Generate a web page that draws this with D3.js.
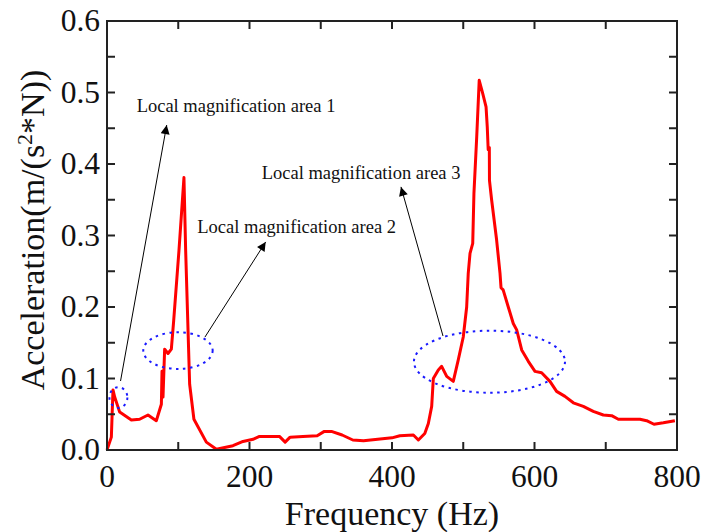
<!DOCTYPE html>
<meta charset="utf-8">
<html>
  <head>
    <script src="https://d3js.org/d3.v7.min.js"></script>
    <style>
      body { margin: 0; background: #fff; }
      text { font-family: "Liberation Serif", "Times New Roman", serif; fill: #111; }
      .tick-label { font-size: 31.5px; }
      .axis-title { font-size: 34px; }
      .note { font-size: 18.5px; }
    </style>
  </head>
  <body>
    <svg id="chart" width="704" height="532"></svg>
    <script>
      // spectrum
      const freq = [0, 6.1, 8.4, 10.8, 17.8, 34.2, 45.8, 57.5, 69.2, 76.3, 77.2, 78.6, 80.9, 85.6, 90.3, 93.6,
        101, 108, 110.4, 116, 122, 139.4, 153.5, 176.8, 190.9, 205, 214, 230, 242, 250, 257, 275, 295, 305,
        315, 330, 345, 360, 380, 400, 411, 430, 437, 446, 451, 455.7, 458, 465, 469.7, 476.8, 486, 493, 500,
        504.8, 507, 509.5, 513.3, 515, 518.9, 522.4, 527.2, 532, 533.7, 535, 536.6, 536.8, 539.8, 546.8,
        551.6, 553, 556, 563.2, 570.2, 575, 582, 591.3, 600.7, 610, 621.7, 631, 642.8, 654.5, 668.5, 682.5,
        696.6, 708.3, 717.7, 748, 757.4, 767.7, 780.8, 797];
      const accel = [0, 0.018, 0.084, 0.074, 0.053, 0.042, 0.043, 0.049, 0.041, 0.064, 0.110, 0.074, 0.141,
        0.135, 0.141, 0.181, 0.279, 0.381, 0.279, 0.092, 0.043, 0.011, 0.001, 0.006, 0.012, 0.015, 0.019,
        0.019, 0.019, 0.011, 0.018, 0.019, 0.020, 0.026, 0.026, 0.021, 0.014, 0.013, 0.015, 0.017, 0.020,
        0.021, 0.014, 0.023, 0.037, 0.061, 0.100, 0.112, 0.117, 0.103, 0.096, 0.126, 0.158, 0.200, 0.247,
        0.275, 0.289, 0.359, 0.438, 0.517, 0.499, 0.480, 0.452, 0.420, 0.423, 0.377, 0.350, 0.294, 0.247,
        0.227, 0.224, 0.200, 0.177, 0.168, 0.140, 0.124, 0.110, 0.108, 0.096, 0.082, 0.075, 0.066, 0.061,
        0.054, 0.049, 0.048, 0.043, 0.043, 0.041, 0.036, 0.038, 0.041];

      const xTicks = [0, 200, 400, 600, 800];
      const xMinor = [100, 300, 500, 700];
      const yTicks = [0, 0.1, 0.2, 0.3, 0.4, 0.5, 0.6];
      const yMinor = [0.05, 0.15, 0.25, 0.35, 0.45, 0.55];

      // annotation ellipses: centre freq, centre accel, half width (Hz), half height
      const ellipses = [
        { cx: 16, cy: 0.0734, rx: 12.6, ry: 0.0145 },
        { cx: 99.6, cy: 0.139, rx: 48.7, ry: 0.0256 },
        { cx: 536.8, cy: 0.1235, rx: 106, ry: 0.0434 }
      ];
      const notes = [
        { text: "Local magnification area 1", x: 41.6, y: 0.4727, from: [19, 0.0965], to: [83.8, 0.4545] },
        { text: "Local magnification area 2", x: 126.7, y: 0.304, from: [137.5, 0.158], to: [222.7, 0.291] },
        { text: "Local magnification area 3", x: 217.1, y: 0.379, from: [471.6, 0.1594], to: [412.6, 0.368] }
      ];

      const margin = { left: 107, right: 27, top: 21, bottom: 82 };
      const width = 704, height = 532;
      const svg = d3.select("#chart");

      const x = d3.scaleLinear().domain([0, 800]).range([margin.left, width - margin.right]);
      const y = d3.scaleLinear().domain([0, 0.6]).range([height - margin.bottom, margin.top]);

      svg.append("defs").append("marker")
        .attr("id", "head")
        .attr("viewBox", "0 0 10 10")
        .attr("refX", 10).attr("refY", 5)
        .attr("markerWidth", 11).attr("markerHeight", 9)
        .attr("markerUnits", "userSpaceOnUse")
        .attr("orient", "auto")
        .append("path").attr("d", "M0,0 L10,5 L0,10 Z").attr("fill", "#000");

      // curve
      const pts = freq.map((f, i) => [f, accel[i]]);
      svg.append("path")
        .datum(pts)
        .attr("fill", "none")
        .attr("stroke", "#ff0000")
        .attr("stroke-width", 3)
        .attr("stroke-linejoin", "round")
        .attr("d", d3.line().x(d => x(d[0])).y(d => y(d[1])));

      // dotted ellipses
      svg.selectAll("ellipse.zone")
        .data(ellipses)
        .enter()
        .append("ellipse")
          .attr("class", "zone")
          .attr("cx", d => x(d.cx))
          .attr("cy", d => y(d.cy))
          .attr("rx", d => x(d.rx) - x(0))
          .attr("ry", d => y(0) - y(d.ry))
          .attr("fill", "none")
          .attr("stroke", "#1a1aff")
          .attr("stroke-width", 2)
          .attr("stroke-dasharray", "2.5 4.5");

      // arrows and labels
      svg.selectAll("line.arrow")
        .data(notes)
        .enter()
        .append("line")
          .attr("class", "arrow")
          .attr("x1", d => x(d.from[0])).attr("y1", d => y(d.from[1]))
          .attr("x2", d => x(d.to[0])).attr("y2", d => y(d.to[1]))
          .attr("stroke", "#000")
          .attr("stroke-width", 1)
          .attr("marker-end", "url(#head)");

      svg.selectAll("text.note")
        .data(notes)
        .enter()
        .append("text")
          .attr("class", "note")
          .attr("x", d => x(d.x))
          .attr("y", d => y(d.y))
          .text(d => d.text);

      // frame with inward ticks on all sides
      const axisColor = "#222";
      const frame = svg.append("g");
      frame.append("rect")
        .attr("x", x(0)).attr("y", y(0.6))
        .attr("width", x(800) - x(0)).attr("height", y(0) - y(0.6))
        .attr("fill", "none").attr("stroke", axisColor).attr("stroke-width", 2);

      const tickLen = 8;
      xTicks.concat(xMinor).forEach(v => {
        frame.append("line").attr("x1", x(v)).attr("x2", x(v))
          .attr("y1", y(0)).attr("y2", y(0) - tickLen)
          .attr("stroke", axisColor).attr("stroke-width", 2);
        frame.append("line").attr("x1", x(v)).attr("x2", x(v))
          .attr("y1", y(0.6)).attr("y2", y(0.6) + tickLen)
          .attr("stroke", axisColor).attr("stroke-width", 2);
      });
      yTicks.concat(yMinor).forEach(v => {
        frame.append("line").attr("x1", x(0)).attr("x2", x(0) + tickLen)
          .attr("y1", y(v)).attr("y2", y(v))
          .attr("stroke", axisColor).attr("stroke-width", 2);
        frame.append("line").attr("x1", x(800)).attr("x2", x(800) - tickLen)
          .attr("y1", y(v)).attr("y2", y(v))
          .attr("stroke", axisColor).attr("stroke-width", 2);
      });

      svg.selectAll("text.xl")
        .data(xTicks)
        .enter()
        .append("text")
          .attr("class", "tick-label xl")
          .attr("x", d => x(d))
          .attr("y", y(0) + 37)
          .attr("text-anchor", "middle")
          .text(d => d);

      svg.selectAll("text.yl")
        .data(yTicks)
        .enter()
        .append("text")
          .attr("class", "tick-label yl")
          .attr("x", x(0) - 7)
          .attr("y", d => y(d) + 10)
          .attr("text-anchor", "end")
          .text(d => d.toFixed(1));

      svg.append("text")
        .attr("class", "axis-title")
        .attr("x", (x(0) + x(800)) / 2)
        .attr("y", 525)
        .attr("text-anchor", "middle")
        .text("Frequency (Hz)");

      const yt = svg.append("text")
        .attr("class", "axis-title")
        .attr("transform", "translate(44," + 230 + ") rotate(-90)")
        .attr("text-anchor", "middle");
      yt.append("tspan").text("Acceleration(m/(s");
      yt.append("tspan").attr("font-size", "22px").attr("dy", -12).text("2");
      yt.append("tspan").attr("dy", 12).text("*N))");
    </script>
  </body>
</html>
